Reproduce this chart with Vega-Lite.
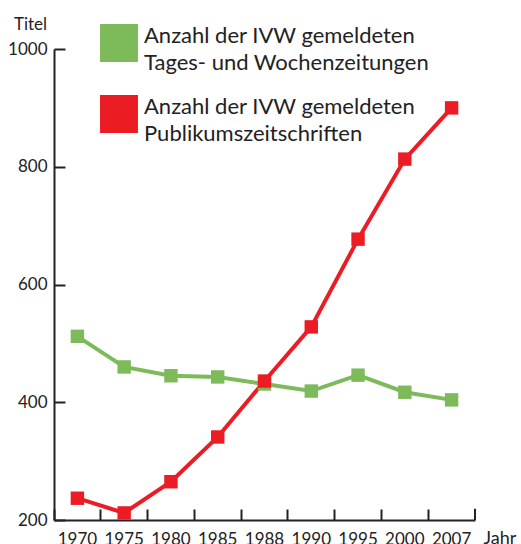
{
  "$schema": "https://vega.github.io/schema/vega-lite/v6.json",
  "width": 421,
  "height": 471,
  "autosize": "none",
  "padding": {"left": 54, "top": 49, "right": 46, "bottom": 24},
  "background": "white",
  "config": {
    "font": "Lato",
    "view": {"stroke": null}
  },
  "data": {
    "values": [
      {"Jahr": "1970", "Reihe": "Tages- und Wochenzeitungen", "Titel": 512},
      {"Jahr": "1975", "Reihe": "Tages- und Wochenzeitungen", "Titel": 460},
      {"Jahr": "1980", "Reihe": "Tages- und Wochenzeitungen", "Titel": 445},
      {"Jahr": "1985", "Reihe": "Tages- und Wochenzeitungen", "Titel": 443},
      {"Jahr": "1988", "Reihe": "Tages- und Wochenzeitungen", "Titel": 431},
      {"Jahr": "1990", "Reihe": "Tages- und Wochenzeitungen", "Titel": 419},
      {"Jahr": "1995", "Reihe": "Tages- und Wochenzeitungen", "Titel": 446},
      {"Jahr": "2000", "Reihe": "Tages- und Wochenzeitungen", "Titel": 417},
      {"Jahr": "2007", "Reihe": "Tages- und Wochenzeitungen", "Titel": 404},
      {"Jahr": "1970", "Reihe": "Publikumszeitschriften", "Titel": 237},
      {"Jahr": "1975", "Reihe": "Publikumszeitschriften", "Titel": 212},
      {"Jahr": "1980", "Reihe": "Publikumszeitschriften", "Titel": 265},
      {"Jahr": "1985", "Reihe": "Publikumszeitschriften", "Titel": 341},
      {"Jahr": "1988", "Reihe": "Publikumszeitschriften", "Titel": 436},
      {"Jahr": "1990", "Reihe": "Publikumszeitschriften", "Titel": 528},
      {"Jahr": "1995", "Reihe": "Publikumszeitschriften", "Titel": 677},
      {"Jahr": "2000", "Reihe": "Publikumszeitschriften", "Titel": 813},
      {"Jahr": "2007", "Reihe": "Publikumszeitschriften", "Titel": 900}
    ]
  },
  "encoding": {
    "x": {
      "field": "Jahr",
      "type": "ordinal",
      "scale": {"type": "band", "paddingInner": 0, "paddingOuter": 0},
      "axis": {
        "labelAngle": 0,
        "bandPosition": 0,
        "labelFontSize": 17,
        "labelColor": "#222",
        "labelPadding": 22,
        "domainColor": "#222",
        "domainWidth": 2,
        "tickColor": "#222",
        "tickWidth": 2,
        "tickSize": -11,
        "title": "Jahr",
        "titleFontSize": 18,
        "titleFontWeight": "normal",
        "titleColor": "#222",
        "titleAlign": "left",
        "titleAnchor": "start",
        "titleBaseline": "alphabetic",
        "titleX": 429,
        "titleY": 23
      }
    },
    "y": {
      "field": "Titel",
      "type": "quantitative",
      "scale": {"domain": [200, 1000]},
      "axis": {
        "values": [200, 400, 600, 800, 1000],
        "format": "d",
        "grid": false,
        "labelFontSize": 17,
        "labelColor": "#222",
        "labelPadding": 18,
        "domainColor": "#222",
        "domainWidth": 2,
        "tickColor": "#222",
        "tickWidth": 2,
        "tickSize": -11,
        "title": "Titel",
        "titleAngle": 0,
        "titleFontSize": 17,
        "titleFontWeight": "normal",
        "titleColor": "#222",
        "titleAlign": "center",
        "titleBaseline": "alphabetic",
        "titleX": -24,
        "titleY": -20
      }
    },
    "color": {
      "field": "Reihe",
      "type": "nominal",
      "sort": ["Tages- und Wochenzeitungen", "Publikumszeitschriften"],
      "scale": {
        "domain": ["Tages- und Wochenzeitungen", "Publikumszeitschriften"],
        "range": ["#7dbb5a", "#ec1c24"]
      },
      "legend": {
        "orient": "none",
        "legendX": 46,
        "legendY": -25,
        "title": null,
        "symbolType": "square",
        "symbolSize": 1440,
        "symbolStrokeWidth": 0,
        "symbolOpacity": 1,
        "labelFontSize": 22,
        "labelBaseline": "alphabetic",
        "labelColor": "#222",
        "labelLimit": 0,
        "labelOffset": 6,
        "labelExpr": "['Anzahl der IVW gemeldeten', datum.label]",
        "rowPadding": 21,
        "encode": {"labels": {"update": {"lineHeight": {"value": 27}}}}
      }
    }
  },
  "layer": [
    {
      "mark": {"type": "line", "strokeWidth": 4}
    },
    {
      "mark": {"type": "point", "shape": "square", "filled": true, "size": 180, "opacity": 1}
    },
    {
      "transform": [{"filter": "datum.Jahr == '2007' && datum.Reihe == 'Publikumszeitschriften'"}],
      "mark": {"type": "rule", "color": "#222", "strokeWidth": 2},
      "encoding": {
        "x": {"field": "Jahr", "type": "ordinal", "bandPosition": 1},
        "y": {"datum": 200},
        "y2": {"datum": 219},
        "color": {"value": "#222"}
      }
    }
  ]
}
